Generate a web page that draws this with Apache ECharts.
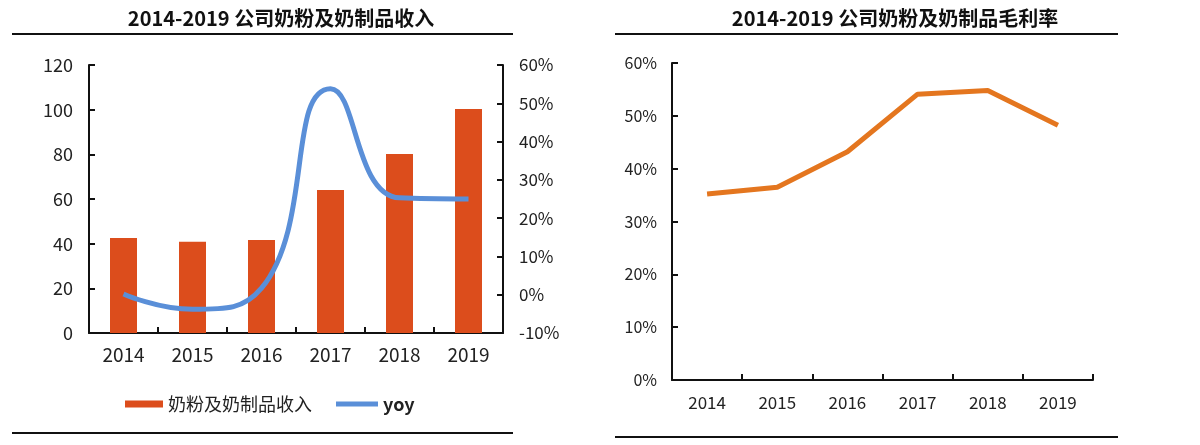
<!DOCTYPE html>
<html><head><meta charset="utf-8">
<script src="https://cdn.jsdelivr.net/npm/echarts@6/dist/echarts.min.js"></script>
<style>html,body{margin:0;padding:0;background:#fff}#c{width:1200px;height:445px}</style>
</head><body><div id="c"></div>
<script>
const years = ['2014','2015','2016','2017','2018','2019'];
const revenue = [42.5, 40.9, 41.6, 64.0, 80.2, 100.3];
const yoy = [0.2, -3.8, 1.7, 53.8, 25.3, 25.0];
const grossMargin = [35.2, 36.5, 43.2, 54.1, 54.8, 48.2];
const leftTitle = '2014-2019 公司奶粉及奶制品收入';
const rightTitle = '2014-2019 公司奶粉及奶制品毛利率';
const revenueName = '奶粉及奶制品收入';
const yoyName = 'yoy';

const FONT = '"Noto Sans CJK SC","Noto Sans",sans-serif';
const axisLine = {show:true, lineStyle:{color:'#111', width:2}};
const axisTick = {show:true, inside:true, length:6, lineStyle:{color:'#111', width:2}};
const lab = {color:'#222', fontFamily:FONT};

const chart = echarts.init(document.getElementById('c'), null, {renderer:'canvas'});
chart.setOption({
  backgroundColor:'#fff',
  animation:false,
  title:[
    {text:leftTitle, left:276, top:3, textAlign:'center', textStyle:{fontSize:20, fontWeight:'bold', color:'#111', fontFamily:FONT}},
    {text:rightTitle, left:890, top:3, textAlign:'center', textStyle:{fontSize:20, fontWeight:'bold', color:'#111', fontFamily:FONT}}
  ],
  graphic:[
    {type:'line', shape:{x1:12,y1:34,x2:513,y2:34}, style:{stroke:'#111', lineWidth:2}},
    {type:'line', shape:{x1:615,y1:34,x2:1118,y2:34}, style:{stroke:'#111', lineWidth:2}},
    {type:'line', shape:{x1:12,y1:433,x2:513,y2:433}, style:{stroke:'#111', lineWidth:2}},
    {type:'line', shape:{x1:615,y1:437,x2:1118,y2:437}, style:{stroke:'#111', lineWidth:2}}
  ],
  legend:[
    {data:[{name:revenueName, icon:'rect'}], left:120, top:390, itemWidth:38, itemHeight:7, itemGap:10,
     textStyle:{fontSize:18, color:'#222', fontFamily:FONT}},
    {data:[{name:yoyName, icon:'rect'}], left:331, top:390, itemWidth:42, itemHeight:5,
     textStyle:{fontSize:18, color:'#222', fontWeight:'bold', fontFamily:FONT}}
  ],
  grid:[
    {left:89, top:65, width:414, height:268},
    {left:672, top:63, width:421, height:317}
  ],
  xAxis:[
    {type:'category', gridIndex:0, data:years, axisLine, axisTick, axisLabel:{...lab, fontSize:19, margin:12}, splitLine:{show:false}},
    {type:'category', gridIndex:1, data:years, axisLine, axisTick, axisLabel:{...lab, fontSize:17, margin:14}, splitLine:{show:false}}
  ],
  yAxis:[
    {type:'value', gridIndex:0, min:0, max:120, interval:20, axisLine, axisTick, axisLabel:{...lab, fontSize:18, margin:16}, splitLine:{show:false}},
    {type:'value', gridIndex:0, position:'right', min:-10, max:60, interval:10, axisLine, axisTick,
     axisLabel:{...lab, fontSize:17, margin:16, formatter:'{value}%'}, splitLine:{show:false}},
    {type:'value', gridIndex:1, min:0, max:60, interval:10, axisLine, axisTick,
     axisLabel:{...lab, fontSize:16, margin:15, formatter:'{value}%'}, splitLine:{show:false}}
  ],
  series:[
    {name:revenueName, type:'bar', xAxisIndex:0, yAxisIndex:0, data:revenue, barWidth:27,
     itemStyle:{color:'#DC4D1C'}},
    {name:yoyName, type:'line', xAxisIndex:0, yAxisIndex:1, data:yoy, smooth:0.5, symbol:'none',
     lineStyle:{color:'#5A8FD8', width:5}, itemStyle:{color:'#5A8FD8'}},
    {name:'毛利率', type:'line', xAxisIndex:1, yAxisIndex:2, data:grossMargin, symbol:'none',
     lineStyle:{color:'#E4761F', width:5}, itemStyle:{color:'#E4761F'}}
  ]
});
</script></body></html>
